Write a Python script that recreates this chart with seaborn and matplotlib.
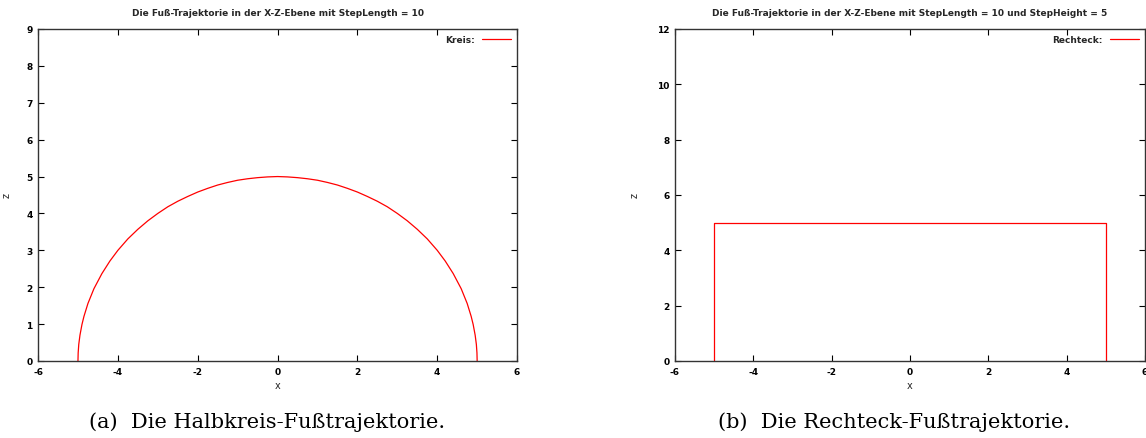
import numpy as np
import pandas as pd
import matplotlib
matplotlib.use("Agg")
import matplotlib.pyplot as plt
import seaborn as sns

# Data
kreis_x = [-5.0, -4.995, -4.98, -4.95, -4.9, -4.85, -4.75, -4.6, -4.4, -4.2, -4.0, -3.75, -3.5, -3.25,
           -3.0, -2.75, -2.5, -2.25, -2.0, -1.75, -1.5, -1.25, -1.0, -0.75, -0.5, -0.25, 0.0,
           0.25, 0.5, 0.75, 1.0, 1.25, 1.5, 1.75, 2.0, 2.25, 2.5, 2.75, 3.0, 3.25, 3.5, 3.75,
           4.0, 4.2, 4.4, 4.6, 4.75, 4.85, 4.9, 4.95, 4.98, 4.995, 5.0]
kreis_z = [0.0, 0.22, 0.45, 0.70, 0.99, 1.21, 1.56, 1.96, 2.37, 2.71, 3.0, 3.31, 3.57, 3.80,
           4.0, 4.18, 4.33, 4.46, 4.58, 4.68, 4.77, 4.84, 4.90, 4.94, 4.97, 4.99, 5.0,
           4.99, 4.97, 4.94, 4.90, 4.84, 4.77, 4.68, 4.58, 4.46, 4.33, 4.18, 4.0, 3.80, 3.57, 3.31,
           3.0, 2.71, 2.37, 1.96, 1.56, 1.21, 0.99, 0.70, 0.45, 0.22, 0.0]
rechteck_x = [-5.0, -5.0, 5.0, 5.0]
rechteck_z = [0.0, 5.0, 5.0, 0.0]

x_ticks = [-6, -4, -2, 0, 2, 4, 6]
z_ticks_a = [0, 1, 2, 3, 4, 5, 6, 7, 8, 9]
z_ticks_b = [0, 2, 4, 6, 8, 10, 12]

title_a = "Die Fuß-Trajektorie in der X-Z-Ebene mit StepLength = 10"
title_b = "Die Fuß-Trajektorie in der X-Z-Ebene mit StepLength = 10 und StepHeight = 5"
caption_a = "(a)  Die Halbkreis-Fußtrajektorie."
caption_b = "(b)  Die Rechteck-Fußtrajektorie."

sns.set_theme(style="ticks")
plt.rcParams['font.family'] = ['DejaVu Sans']

fig = plt.figure(figsize=(11.46, 4.39), dpi=100)
ax1 = fig.add_axes([0.0332, 0.1754, 0.418, 0.7563])
ax2 = fig.add_axes([0.589, 0.1754, 0.410, 0.7563])

df_a = pd.DataFrame({"x": kreis_x, "z": kreis_z})
df_b = pd.DataFrame({"x": rechteck_x, "z": rechteck_z})

sns.lineplot(data=df_a, x="x", y="z", sort=False, estimator=None, color="#ff0000",
             linewidth=0.9, ax=ax1, label="Kreis:")
sns.lineplot(data=df_b, x="x", y="z", sort=False, estimator=None, color="#ff0000",
             linewidth=0.9, ax=ax2, label="Rechteck:")

for ax, zt, title in [(ax1, z_ticks_a, title_a), (ax2, z_ticks_b, title_b)]:
    ax.set_xlim(x_ticks[0], x_ticks[-1])
    ax.set_ylim(zt[0], zt[-1])
    ax.set_xticks(x_ticks)
    ax.set_yticks(zt)
    ax.set_xticklabels([f"{t:d}" for t in x_ticks], fontsize=6.5, fontweight="bold")
    ax.set_yticklabels([str(t) for t in zt], fontsize=6.5, fontweight="bold")
    ax.tick_params(direction="in", top=True, right=True, length=4, width=0.8, pad=4, colors="black")
    for s in ax.spines.values():
        s.set_visible(True)
        s.set_linewidth(1.0)
        s.set_color("#333333")
    ax.set_xlabel("x", fontsize=7, labelpad=3)
    ax.set_ylabel("z", fontsize=7)
    ax.set_title(title, fontsize=6.5, fontweight="bold", pad=10)
    ax.legend(loc="upper right", markerfirst=False, frameon=False, handlelength=3.2,
              prop={"size": 6.5, "weight": "bold"}, borderaxespad=0.3)

ax1.yaxis.set_label_coords(-0.055, 0.5)
ax2.yaxis.set_label_coords(-0.075, 0.5)

fig.text(267 / 1146, 1 - 422 / 439, caption_a, ha="center", va="center",
         fontsize=15, family="DejaVu Serif", color="black")
fig.text(894 / 1146, 1 - 422 / 439, caption_b, ha="center", va="center",
         fontsize=15, family="DejaVu Serif", color="black")

fig.savefig("out.png", dpi=100)
